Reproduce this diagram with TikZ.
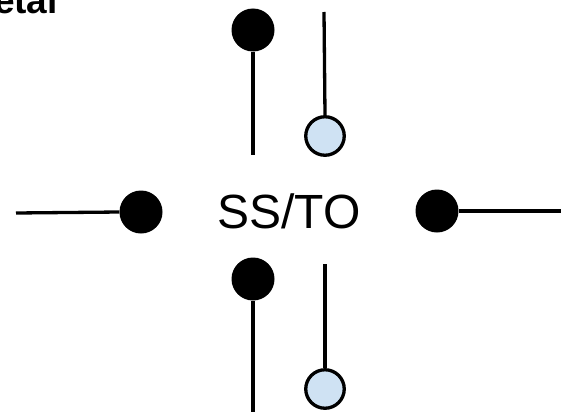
\documentclass[tikz,border=0pt]{standalone}
\usepackage{fontspec}
\setmainfont{Liberation Sans}
\definecolor{pinblue}{HTML}{CFE2F3}
\begin{document}
\begin{tikzpicture}[x=1pt,y=1pt,
  lead/.style={line width=3.3pt},
  blackpin/.style={circle,fill=black,inner sep=0pt,minimum size=43pt},
  bluepin/.style={circle,draw=black,fill=pinblue,line width=3.3pt,inner sep=0pt,minimum size=38.5pt}]
\useasboundingbox (0,0) rectangle (577,-412);
% title (clipped at the edge)
\node[anchor=base west,inner sep=0pt,font=\fontsize{37}{44}\selectfont\bfseries] (title) at (-37,-14) {Metal};
% center label
\node[anchor=base,inner sep=0pt,font=\fontsize{48}{58}\selectfont] (lbl) at (289,-228) {SS/TO};
% top
\node[blackpin] (tl) at (253,-30) {};
\coordinate (tlend) at (253,-155);
\draw[lead] (tl.south) -- (tlend);
\coordinate (trtop) at (324,-12);
\node[bluepin] (tr) at (325,-136) {};
\draw[lead] (trtop) -- (tr.north);
% middle
\node[blackpin] (ml) at (141,-212) {};
\coordinate (mlend) at (16,-213);
\draw[lead] (mlend) -- (ml.west);
\node[blackpin] (mr) at (437,-211) {};
\coordinate (mrend) at (561,-211);
\draw[lead] (mr.east) -- (mrend);
% bottom
\node[blackpin] (bl) at (253,-279) {};
\coordinate (blend) at (253,-412);
\draw[lead] (bl.south) -- (blend);
\coordinate (brtop) at (325,-264);
\node[bluepin] (br) at (325,-389) {};
\draw[lead] (brtop) -- (br.north);
\end{tikzpicture}
\end{document}
